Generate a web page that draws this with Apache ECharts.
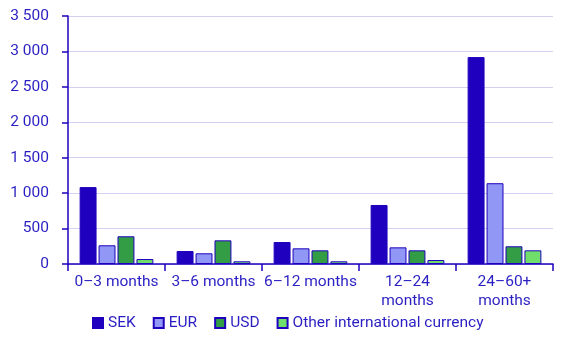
<!DOCTYPE html>
<html>
<head>
<meta charset="utf-8">
<script src="https://cdn.jsdelivr.net/npm/echarts@6/dist/echarts.min.js"></script>
<style>
  html, body { margin: 0; padding: 0; background: #fff; }
  #chart { width: 568px; height: 340px; }
</style>
</head>
<body>
<div id="chart"></div>
<script>
// Maturity buckets and outstanding amounts per currency
const categories = ['0–3 months', '3–6 months', '6–12 months', '12–24\nmonths', '24–60+\nmonths'];
const sek = [1085, 183, 310, 833, 2920];
const eur = [264, 151, 221, 235, 1140];
const usd = [391, 334, 193, 193, 250];
const other = [70, 38, 38, 56, 193];
const yTicks = [0, 500, 1000, 1500, 2000, 2500, 3000, 3500];

const ink = '#1e00be';
const textColor = '#2a1fc2';
const font = 'Roboto, "Liberation Sans", sans-serif';
const fs = 15.5;

function fmt(v) {
  return String(v).replace(/\B(?=(\d{3})+(?!\d))/g, ' ');
}

function bar(name, data, color) {
  return {
    name: name,
    type: 'bar',
    data: data,
    barGap: '12%',
    barCategoryGap: '24%',
    itemStyle: { color: color, borderColor: ink, borderWidth: 1 },
    emphasis: { disabled: true }
  };
}

const chart = echarts.init(document.getElementById('chart'), null, { renderer: 'canvas' });
chart.setOption({
  animation: false,
  textStyle: { fontFamily: font },
  grid: { left: 68, right: 15, top: 16, bottom: 76, containLabel: false },
  legend: {
    bottom: 9,
    left: 92,
    padding: 0,
    icon: 'rect',
    itemWidth: 10,
    itemHeight: 10,
    itemGap: 17,
    textStyle: { color: textColor, fontSize: fs, fontFamily: font },
    data: ['SEK', 'EUR', 'USD', 'Other international currency']
  },
  xAxis: {
    type: 'category',
    data: categories,
    axisLine: { lineStyle: { color: ink, width: 1.5 } },
    axisTick: { show: true, length: 7, lineStyle: { color: ink, width: 1.5 } },
    axisLabel: { color: textColor, fontSize: fs, lineHeight: 19, margin: 9, interval: 0, fontFamily: font }
  },
  yAxis: {
    type: 'value',
    min: yTicks[0],
    max: yTicks[yTicks.length - 1],
    interval: 500,
    axisLine: { show: true, lineStyle: { color: ink, width: 1.5 } },
    axisTick: { show: true, length: 6, lineStyle: { color: ink, width: 1.5 } },
    splitLine: { lineStyle: { color: '#d3d0f0', width: 1 } },
    axisLabel: { color: textColor, fontSize: fs, margin: 19, formatter: fmt, fontFamily: font }
  },
  series: [
    bar('SEK', sek, ink),
    bar('EUR', eur, '#9097f5'),
    bar('USD', usd, '#339d45'),
    bar('Other international currency', other, '#70de6a')
  ]
});
</script>
</body>
</html>
